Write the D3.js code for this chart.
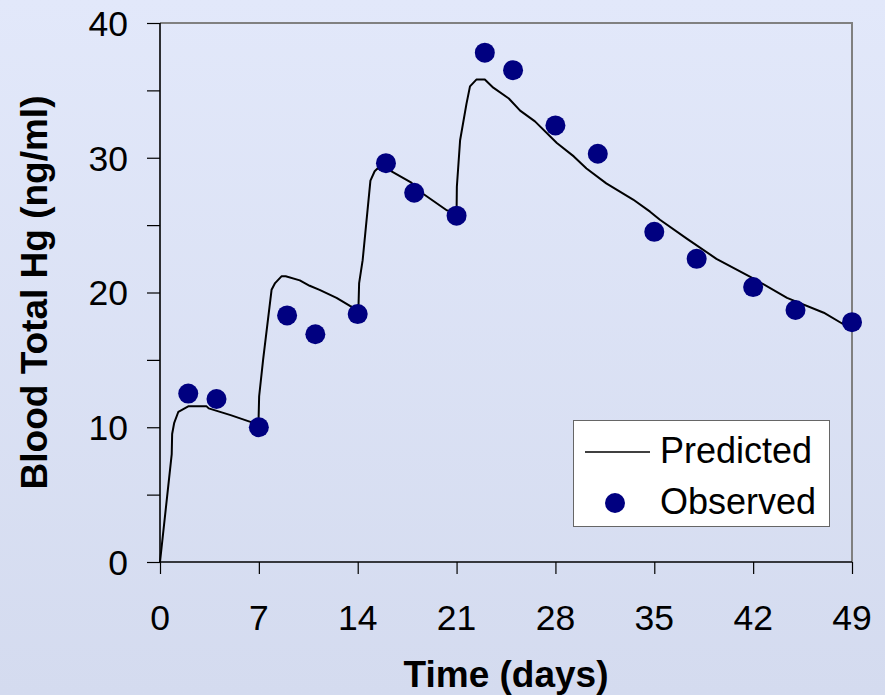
<!DOCTYPE html>
<html>
<head>
<meta charset="utf-8">
<script src="https://cdn.jsdelivr.net/npm/d3@7"></script>
<style>
  html, body { margin: 0; padding: 0; }
  body { width: 885px; height: 695px; overflow: hidden; }
  text { font-family: "Liberation Sans", Arial, sans-serif; fill: #000; }
</style>
</head>
<body>
<svg id="chart" width="885" height="695"></svg>
<script>
// ---- data ----
const predT = [0, 0.83, 0.86, 1.0, 1.3, 2.0, 3.3, 3.45, 5.0, 6.4, 6.97, 7.02, 7.3, 7.9, 8.15, 8.6, 8.9, 9.9, 10.6, 11.3, 12.5, 13.45, 14.05, 14.1, 14.35, 14.9, 15.2, 15.4, 16.3, 17.8, 18.6, 20.3, 21.0, 21.02, 21.25, 21.7, 21.95, 22.4, 23.0, 23.6, 24.7, 25.5, 26.55, 28.1, 29.3, 30.2, 31.6, 33.5, 34.7, 35.4, 37.3, 39.4, 42.0, 44.4, 47.0, 48.3, 49];
const predV = [0, 8.0, 9.5, 10.3, 11.15, 11.55, 11.55, 11.4, 10.9, 10.4, 10.15, 12.3, 15.0, 20.2, 20.7, 21.2, 21.2, 20.9, 20.5, 20.2, 19.6, 19.0, 18.75, 20.7, 22.4, 28.3, 29.0, 29.2, 29.05, 28.15, 27.35, 26.1, 25.95, 27.85, 31.3, 34.0, 35.3, 35.8, 35.8, 35.2, 34.4, 33.5, 32.7, 31.1, 30.1, 29.2, 28.1, 26.9, 26.0, 25.4, 24.0, 22.5, 21.05, 19.6, 18.5, 17.7, 17.5];
const obsT = [2, 4, 7, 9, 11, 14, 16, 18, 21, 23, 25, 28, 31, 35, 38, 42, 45, 49];
const obsV = [12.5, 12.1, 10.0, 18.3, 16.9, 18.4, 29.6, 27.4, 25.7, 37.8, 36.5, 32.4, 30.3, 24.5, 22.5, 20.4, 18.7, 17.8];
const xTicks = [0, 7, 14, 21, 28, 35, 42, 49];
const yTicks = [0, 5, 10, 15, 20, 25, 30, 35, 40];
const yLabels = [0, 10, 20, 30, 40];
const xTitle = "Time (days)";
const yTitle = "Blood Total Hg (ng/ml)";
const legendLabels = ["Predicted", "Observed"];

// ---- layout ----
const svg = d3.select("#chart");
const L = 160, R = 852, T = 23, B = 562;
const FS = 35.5, FT = 37, FL = 36;

const defs = svg.append("defs");
const grad = defs.append("linearGradient").attr("id", "bg").attr("x1", 0).attr("y1", 0).attr("x2", 0).attr("y2", 1);
grad.append("stop").attr("offset", "0%").attr("stop-color", "#e2e8fa");
grad.append("stop").attr("offset", "100%").attr("stop-color", "#d4dbef");
svg.append("rect").attr("width", 885).attr("height", 695).attr("fill", "url(#bg)");

const x = d3.scaleLinear().domain([0, 49]).range([L, R]);
const y = d3.scaleLinear().domain([0, 40]).range([B, T]);

// frame top/right (gray)
svg.append("path")
  .attr("d", `M${L},${T}H${R}V${B}`)
  .attr("fill", "none").attr("stroke", "#808080").attr("stroke-width", 2);

// y axis
const yAxis = d3.axisLeft(y).tickValues(yTicks).tickSize(13).tickFormat("");
const gy = svg.append("g").attr("transform", `translate(${L},0)`).call(yAxis);
gy.select(".domain").remove();
gy.selectAll(".tick line").attr("stroke", "#000").attr("stroke-width", 1.2);
svg.append("line").attr("x1", L).attr("x2", L).attr("y1", T).attr("y2", B)
  .attr("stroke", "#000").attr("stroke-width", 1.6);
svg.append("g").selectAll("text").data(yLabels).join("text")
  .attr("x", 128).attr("y", d => y(d)).attr("dy", "0.36em")
  .attr("text-anchor", "end").attr("font-size", FS).text(d => d);

// x axis
const xAxis = d3.axisBottom(x).tickValues(xTicks).tickSize(12).tickFormat("");
const gx = svg.append("g").attr("transform", `translate(0,${B})`).call(xAxis);
gx.select(".domain").remove();
gx.selectAll(".tick line").attr("stroke", "#000").attr("stroke-width", 1.2);
svg.append("line").attr("x1", L).attr("x2", R).attr("y1", B).attr("y2", B)
  .attr("stroke", "#000").attr("stroke-width", 1.6);
svg.append("g").selectAll("text").data(xTicks).join("text")
  .attr("x", d => x(d)).attr("y", 630)
  .attr("text-anchor", "middle").attr("font-size", FS).text(d => d);

// titles
svg.append("text").attr("x", 506).attr("y", 687)
  .attr("text-anchor", "middle").attr("font-size", FT).attr("font-weight", "bold").text(xTitle);
svg.append("text").attr("transform", `translate(47,${(T + B) / 2}) rotate(-90)`)
  .attr("text-anchor", "middle").attr("font-size", FT).attr("font-weight", "bold").text(yTitle);

// predicted line
const line = d3.line().x(d => x(d[0])).y(d => y(d[1]));
svg.append("path").datum(predT.map((t, i) => [t, predV[i]]))
  .attr("d", line).attr("fill", "none").attr("stroke", "#000")
  .attr("stroke-width", 2).attr("stroke-linejoin", "round");

// observed points
svg.append("g").selectAll("circle").data(obsT.map((t, i) => [t, obsV[i]])).join("circle")
  .attr("cx", d => x(d[0])).attr("cy", d => y(d[1])).attr("r", 10).attr("fill", "#000080");

// legend
const lg = svg.append("g");
lg.append("rect").attr("x", 573.5).attr("y", 420.5).attr("width", 256).attr("height", 106)
  .attr("fill", "#fff").attr("stroke", "#666").attr("stroke-width", 1);
lg.append("line").attr("x1", 585).attr("x2", 650).attr("y1", 452).attr("y2", 452)
  .attr("stroke", "#000").attr("stroke-width", 1.6);
lg.append("text").attr("x", 660).attr("y", 463).attr("font-size", FL).text(legendLabels[0]);
lg.append("circle").attr("cx", 615).attr("cy", 503).attr("r", 10).attr("fill", "#000080");
lg.append("text").attr("x", 660).attr("y", 514).attr("font-size", FL).text(legendLabels[1]);
</script>
</body>
</html>
